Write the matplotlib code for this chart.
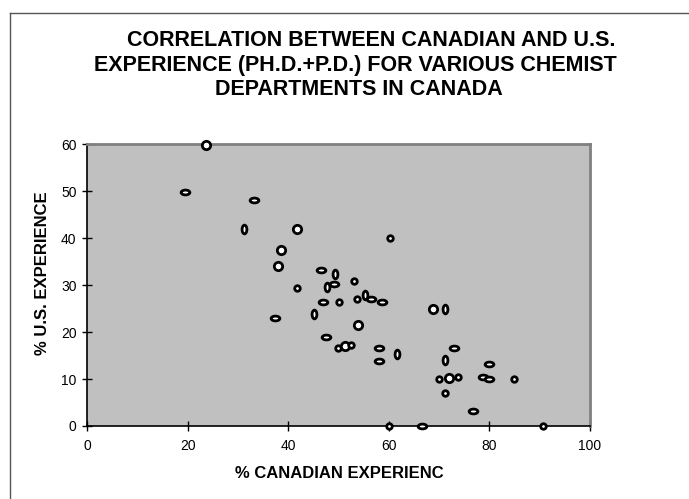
import numpy as np
import matplotlib.pyplot as plt
from matplotlib.path import Path

plt.rcParams['font.family'] = ['Liberation Sans', 'DejaVu Sans']

title = "CORRELATION BETWEEN CANADIAN AND U.S.\nEXPERIENCE (PH.D.+P.D.) FOR VARIOUS CHEMIST\nDEPARTMENTS IN CANADA"
xlabel = "% CANADIAN EXPERIENC"
ylabel = "% U.S. EXPERIENCE"
xticks = [0, 20, 40, 60, 80, 100]
yticks = [0, 10, 20, 30, 40, 50, 60]

# one point per department: % Canadian vs % U.S. experience
canadian = [23.7, 19.4, 33.2, 31.3, 41.7, 38.5, 38.0, 60.3, 37.4, 41.7,
            46.5, 49.4, 49.1, 47.8, 53.1, 47.0, 50.0, 53.6, 55.3, 56.5,
            58.7, 45.1, 53.9, 68.7, 71.1, 47.6, 49.9, 51.2, 52.5, 58.1,
            58.1, 61.6, 73.0, 71.1, 79.9, 70.0, 72.0, 73.8, 78.7, 79.9,
            84.9, 71.1, 76.7, 60.0, 66.6, 90.7]
us = [59.8, 49.8, 48.0, 42.0, 42.0, 37.5, 34.0, 40.0, 23.0, 29.3,
      33.2, 32.3, 30.3, 29.6, 30.9, 26.3, 26.3, 27.0, 27.8, 27.0,
      26.3, 23.8, 21.5, 25.0, 25.0, 19.0, 16.7, 17.0, 17.2, 16.7,
      13.9, 15.3, 16.7, 14.1, 13.2, 9.9, 10.2, 10.4, 10.4, 9.9,
      9.9, 7.0, 3.1, 0.0, 0.0, 0.0]

# marker shape per point: h = flat oval, v = tall oval, c = small ring, C = big ring
shapes = "ChhvCCCchchvhvchccvhhvCCvhcCchhvhvhcCchhcchchc"

circle = Path.unit_circle()
def oval(sx, sy):
    return Path(circle.vertices * [sx, sy], circle.codes)

marker_style = {
    'h': dict(marker=oval(1.0, 0.55), markersize=6.3),
    'v': dict(marker=oval(0.55, 1.0), markersize=6.3),
    'c': dict(marker='o', markersize=4.0),
    'C': dict(marker='o', markersize=6.0),
}

fig = plt.figure(figsize=(6.89, 4.99), dpi=100)
ax = fig.add_axes([0.1263, 0.1463, 0.7300, 0.5650])
ax.set_facecolor('#c0c0c0')

for x, y, s in zip(canadian, us, shapes):
    ax.plot(x, y, linestyle='none', markerfacecolor='white',
            markeredgecolor='black', markeredgewidth=2.0,
            clip_on=False, zorder=5, **marker_style[s])

ax.set_xlim(0, 100)
ax.set_ylim(0, 60)
ax.set_xticks(xticks)
ax.set_yticks(yticks)
ax.tick_params(direction='inout', length=7, width=1, labelsize=10)
ax.tick_params(axis='y', pad=4)
ax.tick_params(axis='x', pad=6)
ax.spines['left'].set_linewidth(1.2)
ax.spines['bottom'].set_linewidth(1.2)
ax.spines['top'].set_color('#808080')
ax.spines['top'].set_linewidth(2)
ax.spines['right'].set_color('#808080')
ax.spines['right'].set_linewidth(2)

ax.set_xlabel(xlabel, fontsize=12, fontweight='bold')
ax.set_ylabel(ylabel, fontsize=12, fontweight='bold')
ax.xaxis.set_label_coords(0.501, -0.142)
ax.yaxis.set_label_coords(-0.074, 0.543)

# title lines placed one by one; the first line sits a little right
lines = title.split("\n")
line_x = [371 / 689, 355 / 689, 359 / 689]
line_y = [41, 65, 89]
for txt, lx, ly in zip(lines, line_x, line_y):
    fig.text(lx, 1 - ly / 499, txt, ha='center', va='center', fontsize=15.5,
             fontweight='bold')

# outer chart frame, cut off at the right and bottom
fig.add_artist(plt.Line2D([10 / 689, 10 / 689], [0, 1 - 13 / 499],
                          color='#555555', lw=1))
fig.add_artist(plt.Line2D([10 / 689, 1], [1 - 13 / 499, 1 - 13 / 499],
                          color='#555555', lw=1))

fig.savefig('out.png', dpi=100)
